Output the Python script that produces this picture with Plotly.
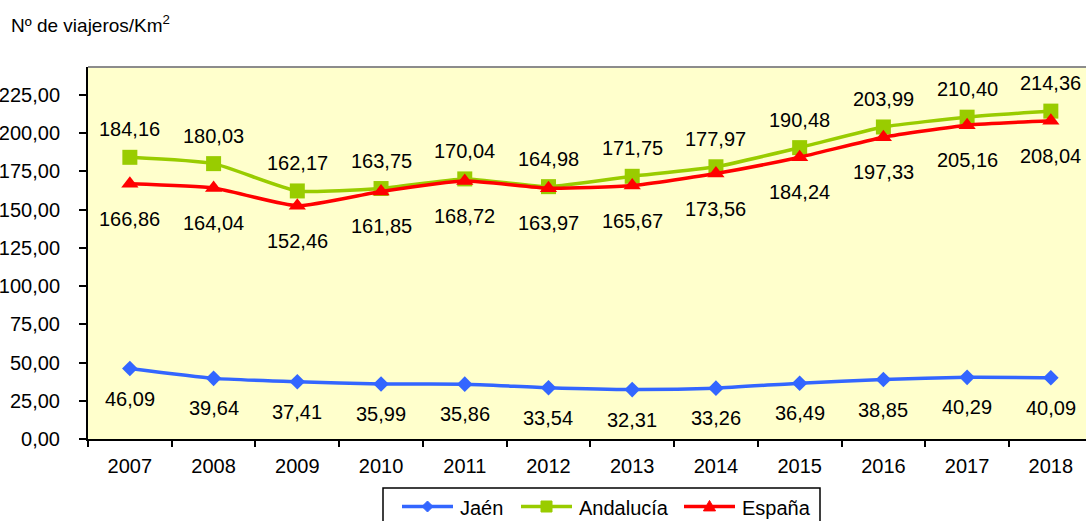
import plotly.graph_objects as go

years = ["2007", "2008", "2009", "2010", "2011", "2012", "2013", "2014", "2015", "2016", "2017", "2018"]
jaen = [46.09, 39.64, 37.41, 35.99, 35.86, 33.54, 32.31, 33.26, 36.49, 38.85, 40.29, 40.09]
andalucia = [184.16, 180.03, 162.17, 163.75, 170.04, 164.98, 171.75, 177.97, 190.48, 203.99, 210.40, 214.36]
espana = [166.86, 164.04, 152.46, 161.85, 168.72, 163.97, 165.67, 173.56, 184.24, 197.33, 205.16, 208.04]
series_names = ["Jaén", "Andalucía", "España"]
y_tick_vals = [0, 25, 50, 75, 100, 125, 150, 175, 200, 225]
y_tick_text = ["0,00", "25,00", "50,00", "75,00", "100,00", "125,00", "150,00", "175,00", "200,00", "225,00"]

FONT = "Liberation Sans, Arial, sans-serif"
W, H = 1086, 521
ML, MR, MT, MB = 88, 0, 67, 82
PW, PH = W - ML - MR, H - MT - MB


def fmt(v):
    return f"{v:.2f}".replace(".", ",")


def px(x):
    return (x - ML) / PW


def py(y):
    return (H - MB - y) / PH


fig = go.Figure()
styles = [
    (jaen, "#3366FF", "diamond", 12, -30),
    (andalucia, "#99CC00", "square", 15, 28),
    (espana, "#FF0000", "triangle-up", 15, -35),
]
for name, (vals, color, sym, msize, shift) in zip(series_names, styles):
    fig.add_trace(go.Scatter(
        x=years, y=vals, name=name, mode="lines+markers",
        line=dict(color=color, width=3.5, shape="spline", smoothing=0.5),
        marker=dict(symbol=sym, size=msize, color=color),
    ))
for vals, color, sym, msize, shift in styles:
    for i, v in enumerate(vals):
        fig.add_annotation(x=i, y=v, text=fmt(v), showarrow=False, yshift=shift,
                           font=dict(family=FONT, size=20, color="black"))

fig.add_annotation(xref="paper", yref="paper", x=px(9), y=py(24), xanchor="left", yanchor="middle",
                   text="Nº de viajeros/Km<sup>2</sup>", showarrow=False,
                   font=dict(family=FONT, size=19, color="black"))

# top border of plot area
fig.add_shape(type="line", xref="paper", yref="paper", x0=0, x1=1, y0=1, y1=1,
              line=dict(color="#8c8c8c", width=2))

# manual legend (box cropped at bottom like the reference)
fig.add_shape(type="rect", xref="paper", yref="paper", x0=px(383), x1=px(820), y0=py(488), y1=py(540),
              line=dict(color="black", width=1.5), fillcolor="white", layer="above")
leg_y = 506.5
leg_starts = [402, 521, 684]


def marker_path(sym, cx, cy, r):
    if sym == "diamond":
        pts = [(cx, cy - r), (cx + r, cy), (cx, cy + r), (cx - r, cy)]
    elif sym == "square":
        pts = [(cx - r, cy - r), (cx + r, cy - r), (cx + r, cy + r), (cx - r, cy + r)]
    else:
        pts = [(cx, cy - r * 1.1), (cx + r * 1.1, cy + r * 0.8), (cx - r * 1.1, cy + r * 0.8)]
    return "M " + " L ".join(f"{px(a)},{py(b)}" for a, b in pts) + " Z"


for name, (vals, color, sym, msize, shift), x0 in zip(series_names, styles, leg_starts):
    fig.add_shape(type="line", xref="paper", yref="paper", x0=px(x0), x1=px(x0 + 51),
                  y0=py(leg_y), y1=py(leg_y), line=dict(color=color, width=3.5), layer="above")
    cx = x0 + 25.5
    fig.add_shape(type="path", xref="paper", yref="paper", path=marker_path(sym, cx, leg_y, 5.5),
                  fillcolor=color, line=dict(color=color, width=1), layer="above")
    fig.add_annotation(xref="paper", yref="paper", x=px(x0 + 56), y=py(leg_y + 1), xanchor="left",
                       yanchor="middle", text=name, showarrow=False,
                       font=dict(family=FONT, size=20, color="black"))

fig.update_layout(
    width=W, height=H,
    margin=dict(l=ML, r=MR, t=MT, b=MB),
    paper_bgcolor="white", plot_bgcolor="#FFFFCC",
    font=dict(family=FONT, size=20, color="black"),
    showlegend=False,
    xaxis=dict(type="category", range=[-0.5, 11.42], showgrid=False, zeroline=False,
               showline=True, linecolor="black", linewidth=2, ticks="outside",
               tickson="boundaries", ticklen=6, tickcolor="black", tickwidth=2,
               ticklabelstandoff=8, fixedrange=True),
    yaxis=dict(range=[0, 243.2], showgrid=False, zeroline=False, showline=True,
               linecolor="black", linewidth=2, ticks="outside", ticklen=7,
               tickcolor="black", tickwidth=2, tickvals=y_tick_vals, ticktext=y_tick_text,
               ticklabelstandoff=15, fixedrange=True),
)
fig.write_html("out.html", config={"displayModeBar": False},
               post_script="document.body.style.margin='0';document.body.style.overflow='hidden';")
